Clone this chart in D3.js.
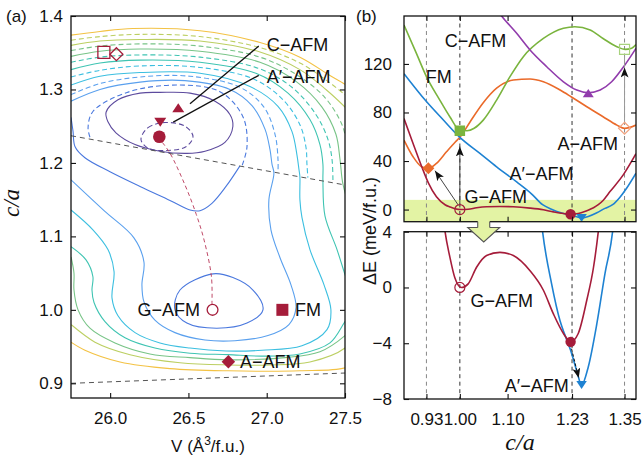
<!DOCTYPE html>
<html>
<head>
<meta charset="utf-8">
<script src="https://cdn.jsdelivr.net/npm/d3@7"></script>
<style>
  body { margin: 0; background: #fff; }
  svg { display: block; font-family: "Liberation Sans", Arial, sans-serif; }
</style>
</head>
<body>
<svg id="fig" width="644" height="457"></svg>
<script>
/* Panel (a): energy contours in the (V, c/a) plane.
   Panel (b): energy vs c/a for the five magnetic orders, with a zoom below. */

// ---- panel (a) axes ----
const vTicks = [26.0, 26.5, 27.0, 27.5];
const caTicksA = [0.9, 1.0, 1.1, 1.2, 1.3, 1.4];

// ---- panel (a) contour lines, [V, c/a] ----
const cS1 = [[25.974,1.269],[26.050,1.286],[26.191,1.295],[26.318,1.296],[26.510,1.295],[26.670,1.284],[26.765,1.266],[26.784,1.250],[26.733,1.228],[26.606,1.216],[26.491,1.213],[26.318,1.216],[26.159,1.225],[26.037,1.241],[25.986,1.256]];
const cD1 = [[26.197,1.232],[26.242,1.248],[26.350,1.255],[26.478,1.250],[26.529,1.236],[26.484,1.222],[26.363,1.217],[26.242,1.220]];
const cL1 = [[26.657,1.049],[26.784,1.044],[26.912,1.027],[26.976,1.0],[26.874,0.982],[26.68,0.975],[26.49,0.982],[26.414,1.0],[26.446,1.027]];
const cL2 = [[25.750,1.262],[25.763,1.243],[25.776,1.222],[25.839,1.207],[25.999,1.188],[26.191,1.168],[26.382,1.149],[26.510,1.136],[26.574,1.135],[26.650,1.145],[26.740,1.168],[26.829,1.196]];
const cD2 = [[25.871,1.235],[25.859,1.248],[25.890,1.270],[26.108,1.296],[26.427,1.306],[26.701,1.297],[26.848,1.263],[26.874,1.222],[26.842,1.196]];
const cL3 = [[25.750,1.284],[25.935,1.300],[26.191,1.310],[26.478,1.312],[26.765,1.300],[26.906,1.278],[26.989,1.246],[27.021,1.218],[27.034,1.198],[27.046,1.186],[27.014,1.150],[27.027,1.109],[27.085,1.071],[27.155,1.034],[27.187,1.003],[27.142,0.980],[27.008,0.965],[26.797,0.958],[26.606,0.959],[26.414,0.969],[26.286,0.986],[26.216,1.011],[26.203,1.034],[26.216,1.065],[26.152,1.098],[25.961,1.135],[25.750,1.177]];
const cD3 = [[25.750,1.293],[25.935,1.308],[26.191,1.317],[26.510,1.318],[26.829,1.303],[26.982,1.276],[27.053,1.239],[27.072,1.205],[27.072,1.187]];
const cL4 = [[25.750,1.306],[25.935,1.318],[26.191,1.323],[26.574,1.322],[26.893,1.304],[27.072,1.277],[27.161,1.243],[27.193,1.211],[27.206,1.191],[27.212,1.181],[27.212,1.150],[27.225,1.126],[27.276,1.082],[27.366,1.034],[27.410,1.000],[27.385,0.973],[27.225,0.951],[26.970,0.945],[26.740,0.944],[26.510,0.948],[26.318,0.955],[26.159,0.969],[26.050,0.992],[26.012,1.016],[26.025,1.052],[25.986,1.082],[25.890,1.109],[25.750,1.136]];
const cD4 = [[25.750,1.317],[25.935,1.326],[26.191,1.332],[26.574,1.330],[26.919,1.314],[27.104,1.286],[27.212,1.252],[27.251,1.221],[27.257,1.198],[27.263,1.180]];
const cL5a = [[25.750,1.327],[25.935,1.336],[26.191,1.340],[26.574,1.337],[26.931,1.322],[27.136,1.295],[27.276,1.259],[27.340,1.225],[27.359,1.198],[27.359,1.176],[27.372,1.128],[27.449,1.082],[27.500,1.048],[27.544,1.020]];
const cL5b = [[27.544,0.997],[27.500,0.984],[27.404,0.955],[27.212,0.940],[26.970,0.937],[26.753,0.939],[26.510,0.941],[26.286,0.948],[26.095,0.962],[25.967,0.984],[25.897,1.010],[25.884,1.027],[25.890,1.045],[25.846,1.068],[25.750,1.086]];
const cD5 = [[25.750,1.337],[25.935,1.344],[26.191,1.347],[26.574,1.344],[26.944,1.329],[27.161,1.303],[27.314,1.266],[27.391,1.232],[27.417,1.205],[27.423,1.175]];
const cL6a = [[25.750,1.345],[25.935,1.352],[26.191,1.355],[26.574,1.352],[26.957,1.337],[27.187,1.311],[27.353,1.276],[27.442,1.239],[27.468,1.205],[27.487,1.171],[27.544,1.130]];
const cL6b = [[27.564,0.980],[27.500,0.965],[27.340,0.943],[27.117,0.935],[26.753,0.932],[26.510,0.935],[26.254,0.940],[26.031,0.955],[25.871,0.975],[25.795,1.000],[25.769,1.027],[25.769,1.050],[25.750,1.072]];
const cD6 = [[25.750,1.353],[25.935,1.359],[26.191,1.362],[26.574,1.359],[26.957,1.344],[27.199,1.319],[27.372,1.289],[27.481,1.252],[27.513,1.225]];
const cL7a = [[25.750,1.360],[25.935,1.366],[26.191,1.368],[26.574,1.366],[26.957,1.351],[27.212,1.327],[27.378,1.300],[27.500,1.276],[27.544,1.266]];
const cL7b = [[27.564,0.966],[27.500,0.948],[27.276,0.929],[27.021,0.925],[26.753,0.925],[26.446,0.928],[26.127,0.939],[25.903,0.956],[25.750,0.980]];
const cD7 = [[25.750,1.367],[25.935,1.372],[26.191,1.375],[26.574,1.372],[26.957,1.357],[27.212,1.336],[27.391,1.311],[27.500,1.293],[27.544,1.286]];
const cL8a = [[25.750,1.374],[25.935,1.379],[26.146,1.383],[26.574,1.380],[26.957,1.364],[27.212,1.344],[27.404,1.319],[27.500,1.307],[27.544,1.300]];
const cL8b = [[27.595,0.932],[27.500,0.921],[27.212,0.917],[26.753,0.917],[26.382,0.920],[26.063,0.929],[25.839,0.945],[25.750,0.956]];

const levelColors = ["#5d4b9e", "#4a78de", "#5aa0ee", "#3cbfe0", "#3fc4b2", "#78c487", "#bccf62", "#f3c244"];

// phase boundaries and transition path
const boundaryUpper = [[25.75, 1.237], [27.5, 1.17]];
const boundaryLower = [[25.75, 0.90], [27.5, 0.914]];
const mepPath = [[26.65,1.007],[26.647,1.045],[26.6,1.095],[26.55,1.13],[26.478,1.17],[26.38,1.214],[26.318,1.232]];

// panel (a) minima
const gMinA = [26.314, 1.2356];
const gLocalA = [26.654, 1.0];
const apMinA = [26.32, 1.2555];
const cMinA = [26.435, 1.275];
const fmMinA = [27.10, 1.0];
const aMinA = [26.755, 0.9295];
const fmHollowA = [25.96, 1.3506];
const aHollowA = [26.04, 1.348];

// ---- panel (b): E (meV/f.u.) vs c/a ----
const caTicksB = [0.93, 1.0, 1.1, 1.235, 1.345];
const caTickLabelsB = ["0.93", "1.00", "1.10", "1.23", "1.35"];
const caGuides = [0.93, 1.0, 1.235, 1.345];
const eTicksTop = [0, 40, 80, 120];
const eTicksBottom = [-8, -4, 0, 4];
const band = [-10, 8];

const gAFM = [[0.883,75],[0.902,54.5],[0.92,35.5],[0.934,22],[0.951,10.5],[0.969,4.0],[0.979,2.2],[0.9895,0.7],[1.0036,0],[1.0174,0.26],[1.035,1.45],[1.056,2.29],[1.084,2.52],[1.112,2.29],[1.147,1.2],[1.175,-0.2],[1.196,-1.9],[1.217,-3.3],[1.232,-3.9],[1.248,-3.3],[1.266,-0.9],[1.28,1.45],[1.29,4.0],[1.30,7.5],[1.315,15],[1.343,29],[1.369,46]];
const apAFM = [[0.883,112],[0.93,89],[0.965,74],[1.0,59.5],[1.042,46.3],[1.077,35.2],[1.119,22.8],[1.15,13],[1.1733,4.0],[1.192,0.3],[1.21,-2.4],[1.22,-3.4],[1.232,-4.5],[1.245,-6.0],[1.255,-7.0],[1.269,-5.7],[1.287,-2.6],[1.304,1.0],[1.32,4.0],[1.335,10],[1.35,18],[1.369,30]];
const fmCurve = [[0.883,152],[0.909,128.7],[0.93,109.5],[0.958,90.2],[0.979,76.5],[1.0,65.5],[1.015,65],[1.03,67],[1.049,73.7],[1.077,90.2],[1.105,109.5],[1.133,126],[1.175,141],[1.217,149.4],[1.241,150.7],[1.273,148],[1.30,141],[1.329,134.2],[1.346,132],[1.36,133],[1.369,136]];
const aAFM = [[0.883,57.2],[0.902,43.5],[0.92,35.2],[0.934,33.9],[0.951,38],[0.972,47.6],[0.99,55.5],[1.0,59.5],[1.021,72],[1.049,88],[1.077,100],[1.112,106.7],[1.147,107.6],[1.175,105.3],[1.21,98.5],[1.233,93],[1.266,84.7],[1.30,76.5],[1.329,69.6],[1.345,66.9],[1.369,69.6]];
const cAFM = [[1.075,166],[1.0874,159.5],[1.119,145.2],[1.147,131.5],[1.182,117.7],[1.217,105.3],[1.245,98.5],[1.269,96.3],[1.294,98.5],[1.318,105.3],[1.343,117.7],[1.369,132.9]];

const gMinB = [1.232, -3.9];
const gLocalB = [1.0, 0];
const apMinB = [1.255, -7.0];
const fmMinB = [1.0, 65];
const fmHollowB = [1.345, 132];
const aMinB = [0.934, 34];
const aHollowB = [1.345, 67];
const cMinB = [1.269, 96];

const RED = "#a51c3a", BLUE = "#1e82d2", GREEN = "#7ab43e", ORANGE = "#ea6a2a", PURPLE = "#913cac";
const BAND = "#e3f3a4";
const FONT = "'Liberation Sans', Arial, sans-serif";

const svg = d3.select("#fig");
const defs = svg.append("defs");

defs.append("marker").attr("id", "head")
  .attr("viewBox", "0 0 10 8").attr("refX", 10).attr("refY", 4)
  .attr("markerWidth", 10).attr("markerHeight", 8)
  .attr("markerUnits", "userSpaceOnUse").attr("orient", "auto")
  .append("path").attr("d", "M0,0L10,4L0,8L2.5,4Z").attr("fill", "#111");

function glyph(kind, s) {
  const h = s / 2;
  if (kind === "square") return `M${-h},${-h}H${h}V${h}H${-h}Z`;
  if (kind === "diamond") return `M0,${-h}L${h},0L0,${h}L${-h},0Z`;
  if (kind === "up") return `M0,${-h * 0.75}L${h},${h * 0.75}L${-h},${h * 0.75}Z`;
  return `M0,${h * 0.75}L${h},${-h * 0.75}L${-h},${-h * 0.75}Z`;
}

function styleAxis(g) {
  g.select(".domain").remove();
  g.attr("font-size", 17).attr("font-family", FONT).attr("color", "#111");
  g.selectAll(".tick line").attr("stroke-width", 1.1);
}

/* ---------------- panel (a) ---------------- */
const xA = d3.scaleLinear().domain([25.75, 27.5]).range([71, 345]);
const yA = d3.scaleLinear().domain([0.88, 1.4]).range([398, 16]);

defs.append("clipPath").attr("id", "clipA").append("rect")
  .attr("x", 71).attr("y", 16).attr("width", 274).attr("height", 382);

const gA = svg.append("g");
const plotA = gA.append("g").attr("clip-path", "url(#clipA)");

const contourTable = [
  [cS1, 0, false, true], [cD1, 0, true, true],
  [cL1, 1, false, true], [cL2, 1, false, false], [cD2, 1, true, false],
  [cL3, 2, false, false], [cD3, 2, true, false],
  [cL4, 3, false, false], [cD4, 3, true, false],
  [cL5a, 4, false, false], [cL5b, 4, false, false], [cD5, 4, true, false],
  [cL6a, 5, false, false], [cL6b, 5, false, false], [cD6, 5, true, false],
  [cL7a, 6, false, false], [cL7b, 6, false, false], [cD7, 6, true, false],
  [cL8a, 7, false, false], [cL8b, 7, false, false]
];

const lineOpen = d3.line().x(d => xA(d[0])).y(d => yA(d[1])).curve(d3.curveCatmullRom.alpha(0.5));
const lineClosed = d3.line().x(d => xA(d[0])).y(d => yA(d[1])).curve(d3.curveCatmullRomClosed.alpha(0.5));
const lineStraight = d3.line().x(d => xA(d[0])).y(d => yA(d[1]));

plotA.selectAll("path.contour")
  .data(contourTable)
  .join("path")
  .attr("class", "contour")
  .attr("d", d => (d[3] ? lineClosed : lineOpen)(d[0]))
  .attr("fill", "none")
  .attr("stroke", d => levelColors[d[1]])
  .attr("stroke-width", 1.1)
  .attr("stroke-dasharray", d => d[2] ? "5,3" : null);

[boundaryUpper, boundaryLower].forEach(b => {
  plotA.append("path").attr("d", lineStraight(b))
    .attr("fill", "none").attr("stroke", "#555").attr("stroke-width", 1)
    .attr("stroke-dasharray", "5,4");
});

plotA.append("path").attr("d", lineOpen(mepPath))
  .attr("fill", "none").attr("stroke", "#c04a68").attr("stroke-width", 1)
  .attr("stroke-dasharray", "4,3");

// leader lines for the labels
[[[26.949, 1.359], [26.510, 1.2806]], [[26.949, 1.3192], [26.403, 1.2555]]].forEach(l => {
  gA.append("path").attr("d", lineStraight(l))
    .attr("stroke", "#111").attr("stroke-width", 1.3).attr("fill", "none");
});

// minima markers
gA.append("circle").attr("cx", xA(gMinA[0])).attr("cy", yA(gMinA[1])).attr("r", 6.3).attr("fill", RED);
gA.append("circle").attr("cx", xA(gLocalA[0])).attr("cy", yA(gLocalA[1])).attr("r", 5.4)
  .attr("fill", "#fff").attr("stroke", RED).attr("stroke-width", 1.3);
[[apMinA, "down", 12, true], [cMinA, "up", 12, true], [fmMinA, "square", 12, true],
 [aMinA, "diamond", 13.5, true], [fmHollowA, "square", 12, false], [aHollowA, "diamond", 13, false]]
  .forEach(([p, kind, s, filled]) => {
    gA.append("path").attr("d", glyph(kind, s))
      .attr("transform", `translate(${xA(p[0])},${yA(p[1])})`)
      .attr("fill", filled ? RED : "none")
      .attr("stroke", filled ? "none" : RED).attr("stroke-width", 1.3);
  });

const labelA = (t, v, c, anchor) => gA.append("text")
  .attr("x", xA(v)).attr("y", yA(c)).attr("dy", "0.36em")
  .attr("text-anchor", anchor).attr("font-size", 18).attr("fill", "#111").text(t);
labelA("C\u2212AFM", 27.0, 1.3615, "start");
labelA("A\u2032\u2212AFM", 27.0, 1.318, "start");
labelA("G\u2212AFM", 26.574, 1.0, "end");
labelA("FM", 27.18, 1.0, "start");
labelA("A\u2212AFM", 26.829, 0.9295, "start");

gA.append("rect").attr("x", 71).attr("y", 16).attr("width", 274).attr("height", 382)
  .attr("fill", "none").attr("stroke", "#111").attr("stroke-width", 1.3);

gA.append("g").attr("transform", "translate(71,0)")
  .call(d3.axisLeft(yA).tickValues(caTicksA).tickFormat(d3.format(".1f")).tickSize(-5).tickPadding(8))
  .call(styleAxis);
gA.append("g").attr("transform", "translate(345,0)")
  .call(d3.axisRight(yA).tickValues(caTicksA).tickFormat("").tickSize(-5))
  .call(styleAxis);
gA.append("g").attr("transform", "translate(0,398)")
  .call(d3.axisBottom(xA).tickValues(vTicks).tickFormat(d3.format(".1f")).tickSize(-5).tickPadding(14))
  .call(styleAxis);
gA.append("g").attr("transform", "translate(0,16)")
  .call(d3.axisTop(xA).tickValues(vTicks).tickFormat("").tickSize(-5))
  .call(styleAxis);

const vLabel = svg.append("text").attr("x", 208).attr("y", 452)
  .attr("text-anchor", "middle").attr("font-size", 17).attr("fill", "#111");
vLabel.append("tspan").text("V (\u00c5");
vLabel.append("tspan").attr("baseline-shift", "super").attr("font-size", 12).text("3");
vLabel.append("tspan").text("/f.u.)");

svg.append("text").attr("transform", "translate(19,203) rotate(-90)")
  .attr("text-anchor", "middle").attr("font-size", 23)
  .attr("font-family", "'Liberation Serif', 'DejaVu Serif', serif").attr("font-style", "italic")
  .attr("fill", "#111").text("c/a");

svg.append("text").attr("x", 6).attr("y", 16).attr("dy", "0.36em")
  .attr("font-size", 17).attr("fill", "#111").text("(a)");

/* ---------------- panel (b) ---------------- */
const xB = d3.scaleLinear().domain([0.883, 1.369]).range([404, 636]);
const yT = d3.scaleLinear().domain([-10, 159.5]).range([221.7, 16]);
const yL = d3.scaleLinear().domain([-8, 4]).range([399, 231.7]);

const panels = [
  { id: "clipT", y: yT, top: 16, bottom: 221.7 },
  { id: "clipL", y: yL, top: 231.7, bottom: 399 }
];

panels.forEach((p, idx) => {
  defs.append("clipPath").attr("id", p.id).append("rect")
    .attr("x", 404).attr("y", p.top).attr("width", 232).attr("height", p.bottom - p.top);

  const g = svg.append("g");
  const plot = g.append("g").attr("clip-path", `url(#${p.id})`);

  if (idx === 0) {
    plot.append("rect").attr("x", 404).attr("width", 232)
      .attr("y", p.y(band[1])).attr("height", p.y(band[0]) - p.y(band[1]))
      .attr("fill", BAND);
  }

  plot.selectAll("line.guide").data(caGuides).join("line")
    .attr("class", "guide")
    .attr("x1", d => xB(d)).attr("x2", d => xB(d))
    .attr("y1", p.top).attr("y2", p.bottom)
    .attr("stroke", d => (d === 1.0 || d === 1.235) ? "#333" : "#888")
    .attr("stroke-width", 1).attr("stroke-dasharray", "4,3.5");

  const line = d3.line().x(d => xB(d[0])).y(d => p.y(d[1])).curve(d3.curveMonotoneX);
  [[aAFM, ORANGE], [fmCurve, GREEN], [cAFM, PURPLE], [apAFM, BLUE], [gAFM, RED]].forEach(([data, col]) => {
    plot.append("path").attr("d", line(data)).attr("fill", "none")
      .attr("stroke", col).attr("stroke-width", 1.6);
  });

  const seg = (a, b, col, dash, head) => {
    const l = plot.append("line")
      .attr("x1", xB(a[0])).attr("y1", p.y(a[1]))
      .attr("x2", xB(b[0])).attr("y2", p.y(b[1]))
      .attr("stroke", col).attr("stroke-width", 1).attr("stroke-dasharray", dash);
    if (head) l.attr("marker-end", "url(#head)");
  };

  if (idx === 0) {
    seg([1.345, 70], [1.345, 127], "#999", null, false);
    seg([1.345, 100], [1.345, 117], "#999", null, true);
    seg([1.0, 4], [1.0, 52], "#444", null, true);
    seg([0.997, 3.5], [0.948, 32], "#444", null, true);
  } else {
    seg([1.234, -4.4], [1.249, -6.5], "#111", "3,2", true);
  }

  const mk = (pt, kind, s, fill, stroke) => {
    plot.append("path").attr("d", glyph(kind, s))
      .attr("transform", `translate(${xB(pt[0])},${p.y(pt[1])})`)
      .attr("fill", fill).attr("stroke", stroke).attr("stroke-width", 1.2);
  };
  if (idx === 0) {
    mk(aMinB, "diamond", 12, ORANGE, "none");
    mk(fmMinB, "square", 10.5, GREEN, "none");
    mk(cMinB, "up", 11, PURPLE, "none");
    mk(fmHollowB, "square", 10, "none", "#a8d27e");
    mk(aHollowB, "diamond", 12, "none", "#f2a27e");
  }
  mk(apMinB, "down", 10.5, BLUE, "none");
  plot.append("circle").attr("cx", xB(gLocalB[0])).attr("cy", p.y(gLocalB[1])).attr("r", 5)
    .attr("fill", "none").attr("stroke", RED).attr("stroke-width", 1.2);
  plot.append("circle").attr("cx", xB(gMinB[0])).attr("cy", p.y(gMinB[1])).attr("r", 5.2)
    .attr("fill", RED);

  const lab = (t, c, e) => g.append("text")
    .attr("x", xB(c)).attr("y", p.y(e)).attr("dy", "0.36em")
    .attr("text-anchor", "middle").attr("font-size", 18).attr("fill", "#111").text(t);
  if (idx === 0) {
    lab("C\u2212AFM", 1.033, 139.7);
    lab("FM", 0.956, 109.5);
    lab("A\u2212AFM", 1.268, 54.5);
    lab("A\u2032\u2212AFM", 1.171, 29.8);
    lab("G\u2212AFM", 1.075, 10.5);
  } else {
    lab("G\u2212AFM", 1.088, -0.93);
    lab("A\u2032\u2212AFM", 1.161, -7.0);
  }

  g.append("rect").attr("x", 404).attr("y", p.top).attr("width", 232).attr("height", p.bottom - p.top)
    .attr("fill", "none").attr("stroke", "#111").attr("stroke-width", 1.3);

  const ticks = idx === 0 ? eTicksTop : eTicksBottom;
  g.append("g").attr("transform", "translate(404,0)")
    .call(d3.axisLeft(p.y).tickValues(ticks)
      .tickFormat(d => d < 0 ? "\u2212" + Math.abs(d) : String(d)).tickSize(-5).tickPadding(12))
    .call(styleAxis);
  g.append("g").attr("transform", "translate(636,0)")
    .call(d3.axisRight(p.y).tickValues(ticks).tickFormat("").tickSize(-5))
    .call(styleAxis);
  g.append("g").attr("transform", `translate(0,${p.top})`)
    .call(d3.axisTop(xB).tickValues(caTicksB).tickFormat("").tickSize(-5))
    .call(styleAxis);
  g.append("g").attr("transform", `translate(0,${p.bottom})`)
    .call(d3.axisBottom(xB).tickValues(caTicksB)
      .tickFormat(idx === 1 ? (d, i) => caTickLabelsB[i] : "").tickSize(-5).tickPadding(14))
    .call(styleAxis);
});

// block arrow from the highlighted band down to the zoomed panel
const ax = xB(1.05);
const arrowPts = [[ax - 6, 219], [ax - 6, 227.5], [ax - 16, 227.5], [ax, 242], [ax + 16, 227.5], [ax + 6, 227.5], [ax + 6, 219]];
svg.append("path").attr("d", d3.line()(arrowPts) + "Z").attr("fill", BAND).attr("stroke", "none");
svg.append("path").attr("d", d3.line()(arrowPts.slice(1, 6)) +
  `M${ax - 6},221.7L${ax - 6},227.5M${ax + 6},221.7L${ax + 6},227.5`)
  .attr("fill", "none").attr("stroke", "#555").attr("stroke-width", 1.1);

svg.append("text").attr("transform", "translate(370,231) rotate(-90)")
  .attr("text-anchor", "middle").attr("dy", "0.36em").attr("font-size", 18).attr("fill", "#111")
  .text("\u0394E (meV/f.u.)");

svg.append("text").attr("x", 520).attr("y", 450)
  .attr("text-anchor", "middle").attr("font-size", 24)
  .attr("font-family", "'Liberation Serif', 'DejaVu Serif', serif").attr("font-style", "italic")
  .attr("fill", "#111").text("c/a");

svg.append("text").attr("x", 356).attr("y", 16).attr("dy", "0.36em")
  .attr("font-size", 17).attr("fill", "#111").text("(b)");
</script>
</body>
</html>
